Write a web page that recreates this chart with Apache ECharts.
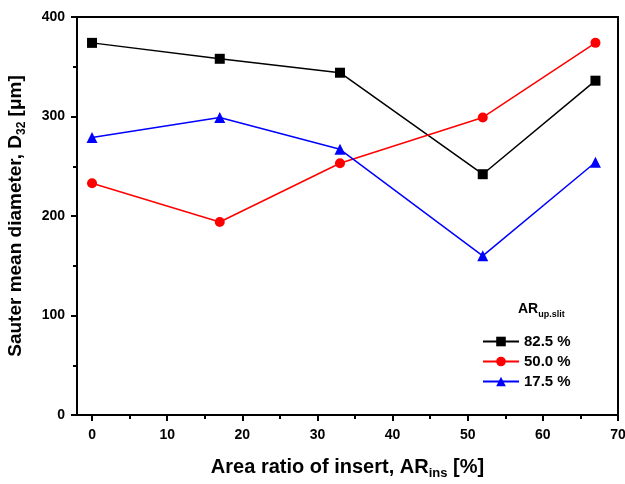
<!DOCTYPE html>
<html><head><meta charset="utf-8">
<script src="https://cdn.jsdelivr.net/npm/echarts@6/dist/echarts.min.js"></script>
<style>html,body{margin:0;padding:0;background:#fff}#c{width:625px;height:484px}</style>
</head><body><div id="c"></div>
<script>
const xValues = [0, 17, 33, 52, 67];
const s825 = [374, 358, 344, 242, 336];
const s500 = [233, 194, 253, 299, 374];
const s175 = [279, 299, 267, 160, 254];
const seriesNames = ['82.5 %', '50.0 %', '17.5 %'];
const xTicks = [0, 10, 20, 30, 40, 50, 60, 70];
const xMinorTicks = [5, 15, 25, 35, 45, 55, 65];
const yTicks = [0, 100, 200, 300, 400];
const yMinorTicks = [50, 150, 250, 350];

const font = 'Liberation Sans, Arial, sans-serif';
const chart = echarts.init(document.getElementById('c'));
const pairs = arr => xValues.map((x, i) => [x, arr[i]]);
const mk = (name, data, color, symbol, size) => ({
  name, type: 'line', data: pairs(data), symbol, symbolSize: size,
  lineStyle: { color, width: 1.5 }, itemStyle: { color },
  xAxisIndex: 0, yAxisIndex: 0, animation: false
});
const blk = { color: '#000', width: 2 };
chart.setOption({
  animation: false,
  textStyle: { fontFamily: font },
  grid: { left: 77, top: 17, right: 7, bottom: 69, containLabel: false, outerBoundsMode: 'none' },
  legend: {
    orient: 'vertical', left: 477, top: 329, itemGap: 5, itemWidth: 36, itemHeight: 12,
    textStyle: { fontFamily: font, fontWeight: 'bold', fontSize: 15, color: '#000' },
    data: seriesNames
  },
  graphic: [{
    type: 'text', left: 518, top: 302,
    style: {
      text: '{a|AR}{b|up.slit}', fontFamily: font,
      rich: {
        a: { fontFamily: font, fontWeight: 'bold', fontSize: 14, fill: '#000' },
        b: { fontFamily: font, fontWeight: 'bold', fontSize: 9, fill: '#000', padding: [12, 0, 0, 0] }
      }
    }
  }],
  xAxis: [{
    type: 'value', min: -2, max: 70, position: 'bottom',
    axisLine: { onZero: false, lineStyle: blk },
    axisTick: { length: 6, lineStyle: blk, customValues: xTicks },
    splitLine: { show: false },
    axisLabel: { fontFamily: font, fontWeight: 'bold', fontSize: 14, color: '#000', margin: 13,
      customValues: xTicks },
    name: '{t|Area ratio of insert, AR}{s|ins}{t| [%]}', nameLocation: 'middle', nameGap: 39,
    nameTextStyle: { rich: {
      t: { fontFamily: font, fontWeight: 'bold', fontSize: 20, color: '#000' },
      s: { fontFamily: font, fontWeight: 'bold', fontSize: 13, color: '#000', padding: [13, 0, 0, 0] }
    } }
  }, {
    type: 'value', min: -2, max: 70, position: 'top',
    axisLine: { onZero: false, lineStyle: blk },
    axisTick: { show: false }, axisLabel: { show: false }, splitLine: { show: false }
  }, {
    type: 'value', min: -2, max: 70, position: 'bottom', offset: 0,
    axisLine: { show: false, onZero: false },
    axisTick: { length: 4, lineStyle: blk, customValues: xMinorTicks },
    axisLabel: { show: false }, splitLine: { show: false }
  }],
  yAxis: [{
    type: 'value', min: 0, max: 400, position: 'left',
    axisLine: { onZero: false, lineStyle: blk },
    axisTick: { length: 6, lineStyle: blk, customValues: yTicks },
    splitLine: { show: false },
    axisLabel: { fontFamily: font, fontWeight: 'bold', fontSize: 14, color: '#000', margin: 12,
      customValues: yTicks },
    name: '{t|Sauter mean diameter, D}{s|32}{t| [μm]}', nameLocation: 'middle', nameGap: 49, nameRotate: 90,
    nameTextStyle: { rich: {
      t: { fontFamily: font, fontWeight: 'bold', fontSize: 19, color: '#000' },
      s: { fontFamily: font, fontWeight: 'bold', fontSize: 12, color: '#000', padding: [13, 0, 0, 0] }
    } }
  }, {
    type: 'value', min: 0, max: 400, position: 'right',
    axisLine: { onZero: false, lineStyle: blk },
    axisTick: { show: false }, axisLabel: { show: false }, splitLine: { show: false }
  }, {
    type: 'value', min: 0, max: 400, position: 'left', offset: 0,
    axisLine: { show: false, onZero: false },
    axisTick: { length: 4, lineStyle: blk, customValues: yMinorTicks },
    axisLabel: { show: false }, splitLine: { show: false }
  }],
  series: [
    mk(seriesNames[0], s825, '#000000', 'rect', 10),
    mk(seriesNames[1], s500, '#ff0000', 'circle', 10),
    mk(seriesNames[2], s175, '#0000ff', 'triangle', 11)
  ]
});
</script></body></html>
